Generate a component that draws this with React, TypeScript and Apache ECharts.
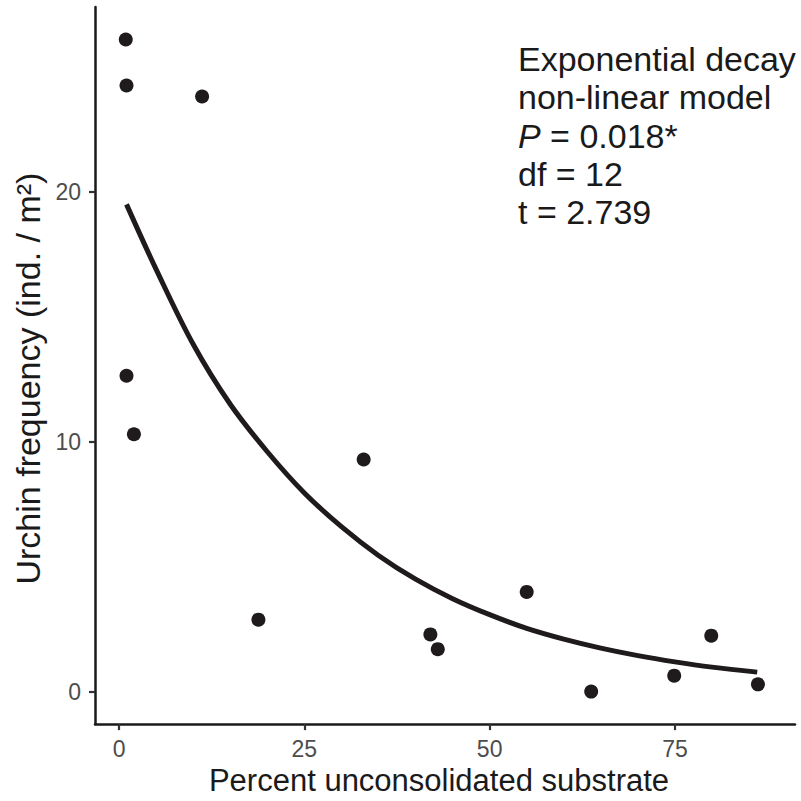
import React, { useEffect, useRef } from "react";
import * as echarts from "echarts";

// Observed data points (percent unconsolidated substrate, urchins per m²)
const substrate = [0.9, 1.0, 11.2, 1.0, 2.0, 33.0, 18.8, 42.0, 43.0, 55.0, 63.7, 74.9, 79.9, 86.2];
const urchins = [26.1, 24.26, 23.82, 12.64, 10.3, 9.29, 2.88, 2.29, 1.7, 3.99, 0.0, 0.64, 2.24, 0.29];

// Fitted exponential decay curve
const curveX = [1, 5, 10, 15, 20, 25, 30, 35, 40, 45, 50, 55, 60, 65, 70, 75, 80, 86.1];
const curveY = [19.5, 16.9, 13.9, 11.5, 9.6, 7.95, 6.6, 5.45, 4.5, 3.72, 3.08, 2.53, 2.1, 1.74, 1.44, 1.19, 0.98, 0.78];

const xTicks = [0, 25, 50, 75];
const yTicks = [0, 10, 20];

const annotationLines = [
  "Exponential decay",
  "non-linear model",
  "{i|P} = 0.018*",
  "df = 12",
  "t = 2.739",
];

const FONT = "'Liberation Sans', Arial, Helvetica, sans-serif";
const INK = "#1f1b1c";

export default function App() {
  const ref = useRef<HTMLDivElement>(null);

  useEffect(() => {
    if (!ref.current) return;
    const chart = echarts.init(ref.current, null, { renderer: "svg" });

    const points = substrate.map((x, i) => [x, urchins[i]]);
    const curve = curveX.map((x, i) => [x, curveY[i]]);

    chart.setOption({
      animation: false,
      backgroundColor: "#ffffff",
      textStyle: { fontFamily: FONT },
      grid: { left: 95, right: 6, top: 7, bottom: 75, containLabel: false },
      xAxis: {
        type: "value",
        min: -3.25,
        max: 91.2,
        name: "Percent unconsolidated substrate",
        nameLocation: "middle",
        nameGap: 38,
        nameTextStyle: { fontSize: 31, color: "#1a1a1a", fontFamily: FONT, padding: [0, 12, 0, 0] },
        axisLine: { show: true, onZero: false, lineStyle: { color: "#1a1a1a", width: 2.5 } },
        axisTick: {
          show: true,
          customValues: xTicks,
          length: 6,
          lineStyle: { color: "#333333", width: 2.2 },
        },
        axisLabel: {
          customValues: xTicks,
          margin: 13,
          fontSize: 23,
          color: "#4d4d4d",
          fontFamily: FONT,
        },
        splitLine: { show: false },
      },
      yAxis: {
        type: "value",
        min: -1.3,
        max: 27.4,
        name: "Urchin frequency (ind. / m²)",
        nameLocation: "middle",
        nameGap: 47,
        nameTextStyle: { fontSize: 34, color: "#1a1a1a", fontFamily: FONT, padding: [0, 26, 0, 0] },
        axisLine: { show: true, onZero: false, lineStyle: { color: "#1a1a1a", width: 2.5 } },
        axisTick: {
          show: true,
          customValues: yTicks,
          length: 6,
          lineStyle: { color: "#333333", width: 2.2 },
        },
        axisLabel: {
          customValues: yTicks,
          margin: 14,
          fontSize: 23,
          color: "#4d4d4d",
          fontFamily: FONT,
        },
        splitLine: { show: false },
      },
      series: [
        {
          type: "line",
          data: curve,
          smooth: 0.35,
          showSymbol: false,
          lineStyle: { color: INK, width: 5 },
          z: 2,
        },
        {
          type: "scatter",
          data: points,
          symbol: "circle",
          symbolSize: 14,
          itemStyle: { color: INK, opacity: 1 },
          z: 3,
        },
      ],
      graphic: annotationLines.map((t, i) => ({
        type: "text",
        left: 518,
        top: 42 + i * 38.3,
        style: {
          text: t,
          fontSize: 34,
          fontFamily: FONT,
          fill: "#1a1a1a",
          rich: {
            i: { fontStyle: "italic", fontSize: 34, fontFamily: FONT, fill: "#1a1a1a" },
          },
        },
      })),
    });

    return () => chart.dispose();
  }, []);

  return (
    <div
      ref={ref}
      style={{ position: "absolute", left: 0, top: 0, width: 801, height: 801, background: "#fff" }}
    />
  );
}
